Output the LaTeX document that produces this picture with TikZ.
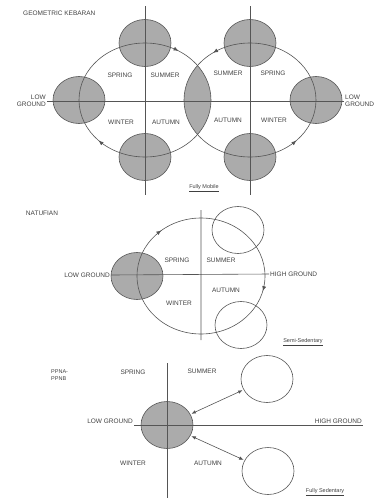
\documentclass[tikz,border=0pt]{standalone}
\usepackage{fontspec}
\setmainfont{Liberation Sans}
\usetikzlibrary{arrows.meta,shapes.geometric,decorations.markings}
\definecolor{ink}{HTML}{555555}
\definecolor{campgray}{HTML}{ABABAB}
\definecolor{txt}{HTML}{404040}

\begin{document}
\begin{tikzpicture}[x=1pt,y=-1pt,
  camp/.style={ellipse,draw=ink,fill=campgray,line width=0.6pt,minimum width=52pt,minimum height=47pt,inner sep=0pt},
  site/.style={camp,fill=none},
  season/.style={font=\fontsize{6.5}{7.5}\selectfont,text=txt,inner sep=1pt},
  tag/.style={font=\fontsize{5.5}{6.5}\selectfont,text=txt,inner sep=1pt},
  axisline/.style={draw=ink,line width=0.6pt},
  orbit/.style={draw=ink,line width=0.6pt},
  fwd/.style={postaction={decorate,decoration={markings,mark=at position #1 with {\arrow{Latex[length=5pt,width=4pt]}}}}},
  rev/.style={postaction={decorate,decoration={markings,mark=at position #1 with {\arrowreversed{Latex[length=5pt,width=4pt]}}}}},
  trip/.style={draw=ink,line width=0.6pt,{Latex[length=4.5pt,width=3.5pt]}-{Latex[length=4.5pt,width=3.5pt]},shorten <=1pt,shorten >=1pt}]
\useasboundingbox (0,0) rectangle (381,498);
% geometric kebaran
\node[season,anchor=west] (kebTitle) at (22,13) {GEOMETRIC KEBARAN};
\node[camp] (kw) at (79,100) {};
\node[camp] (kn) at (145,43) {};
\node[camp] (ks) at (145,157) {};
\node[camp] (rn) at (250,43) {};
\node[camp] (rs) at (250,157) {};
\node[camp] (re) at (316,100) {};
\coordinate (kc) at (145,100);
\coordinate (rc) at (250,100);
\begin{scope}
\clip (kc) ellipse [x radius=66,y radius=57];
\fill[campgray] (rc) ellipse [x radius=66,y radius=57];
\end{scope}
\draw[orbit,fwd=0.84,fwd=0.38] (kc) ellipse [x radius=66,y radius=57];
\draw[orbit,rev=0.65,rev=0.12] (rc) ellipse [x radius=66,y radius=57];
\node[season,align=right,anchor=east] (lowW) at (47,101) {LOW\\GROUND};
\node[season,align=left,anchor=west] (lowE) at (344,101) {LOW\\GROUND};
\coordinate (kn1) at (145,6);
\coordinate (ks1) at (145,195);
\coordinate (rn1) at (250,6);
\coordinate (rs1) at (250,195);
\draw[axisline] (lowW.east) -- (lowE.west) (kn1) -- (ks1) (rn1) -- (rs1);
\node[season] (kSpring) at (120,75) {SPRING};
\node[season] (kSummer) at (165,75) {SUMMER};
\node[season] (kWinter) at (121,122) {WINTER};
\node[season] (kAutumn) at (166,122) {AUTUMN};
\node[season] (rSummer) at (228,73) {SUMMER};
\node[season] (rSpring) at (273,73) {SPRING};
\node[season] (rAutumn) at (228,120) {AUTUMN};
\node[season] (rWinter) at (274,120) {WINTER};
\node[tag] (mobile) at (204,188) {\underline{Fully Mobile}};
% natufian
\node[season] (natTitle) at (42,213) {NATUFIAN};
\node[camp] (nw) at (137,276) {};
\coordinate (nc) at (201,276);
\draw[orbit,fwd=0.64,fwd=0.04] (nc) ellipse [x radius=64,y radius=58];
\node[site] (nn) at (238,230) {};
\node[site] (ns) at (241,325) {};
\node[season,anchor=east] (nLow) at (111,275) {LOW GROUND};
\node[season,anchor=west] (nHigh) at (269,274) {HIGH GROUND};
\coordinate (nn1) at (201,210);
\coordinate (ns1) at (201,340);
\draw[axisline] (nLow.east) -- (nHigh.west) (nn1) -- (ns1);
\node[season] (nSpring) at (177,260) {SPRING};
\node[season] (nSummer) at (221,260) {SUMMER};
\node[season] (nAutumn) at (226,290) {AUTUMN};
\node[season] (nWinter) at (179,303) {WINTER};
\node[tag] (semi) at (303,342) {\underline{Semi-Sedentary}};
% ppna-ppnb
\node[tag,align=left,anchor=west] (ppnTitle) at (50,375) {PPNA-\\PPNB};
\node[camp] (pw) at (167,425) {};
\node[site] (pn) at (267,379) {};
\node[site] (ps) at (268,471) {};
\node[season,anchor=south east] (pLow) at (134,425) {LOW GROUND};
\node[season,anchor=south east] (pHigh) at (363,425) {HIGH GROUND};
\coordinate (pn1) at (167,363);
\coordinate (ps1) at (167,498);
\draw[axisline] (pLow.south east) -- (pHigh.south east) (pn1) -- (ps1);
\draw[trip] (pw) -- (pn);
\draw[trip] (pw) -- (ps);
\node[season] (pSpring) at (133,372) {SPRING};
\node[season] (pSummer) at (202,371) {SUMMER};
\node[season] (pWinter) at (133,463) {WINTER};
\node[season] (pAutumn) at (208,463) {AUTUMN};
\node[tag] (full) at (325,492) {\underline{Fully Sedentary}};
\end{tikzpicture}
\end{document}
